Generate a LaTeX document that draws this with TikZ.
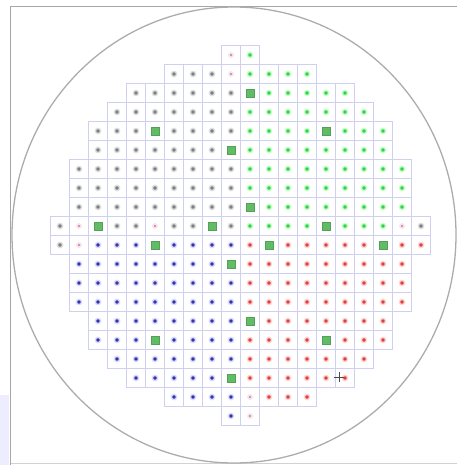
\documentclass[tikz,border=0pt]{standalone}
\usepackage{xcolor}
\usepackage{tikz}

\definecolor{cellline}{HTML}{CFCFF0}
\definecolor{dotgray}{HTML}{7E7E7E}
\definecolor{dotgreen}{HTML}{30D050}
\definecolor{dotblue}{HTML}{3434A8}
\definecolor{dotred}{HTML}{DE4040}
\definecolor{dotpink}{HTML}{D890B4}
\definecolor{sqgreen}{HTML}{62BC66}

% die map: row / first column / bins
\def\diemap{
    0/9/{p,n},
    1/6/{a,a,a,p,n,n,n,n},
    2/4/{a,a,a,a,a,a,s,n,n,n,n,n},
    3/3/{a,a,a,a,a,a,a,n,n,n,n,n,n,n},
    4/2/{a,a,a,s,a,a,a,a,n,n,n,n,s,n,n,n},
    5/2/{a,a,a,a,a,a,a,s,n,n,n,n,n,n,n,n},
    6/1/{a,a,a,a,a,a,a,a,a,n,n,n,n,n,n,n,n,n},
    7/1/{a,a,a,a,a,a,a,a,a,n,n,n,n,n,n,n,n,n},
    8/1/{a,a,a,a,a,a,a,a,a,s,n,n,n,n,n,n,n,n},
    9/0/{a,p,s,a,a,p,a,a,s,a,n,n,n,n,s,n,n,n,p,a},
    10/0/{a,p,b,b,b,s,b,b,b,b,r,s,r,r,r,r,r,s,r,r},
    11/1/{b,b,b,b,b,b,b,b,s,r,r,r,r,r,r,r,r,r},
    12/1/{b,b,b,b,b,b,b,b,b,r,r,r,r,r,r,r,r,r},
    13/1/{b,b,b,b,b,b,b,b,b,r,r,r,r,r,r,r,r,r},
    14/2/{b,b,b,b,b,b,b,b,s,r,r,r,r,r,r,r},
    15/2/{b,b,b,s,b,b,b,b,r,r,r,r,s,r,r,r},
    16/3/{b,b,b,b,b,b,b,r,r,r,r,r,r,r},
    17/4/{b,b,b,b,b,s,r,r,r,r,r,r},
    18/6/{b,b,b,b,p,r,r,r},
    19/9/{b,p}}

\begin{document}
\begin{tikzpicture}[x=1pt, y=-1pt,
    cell/.style={rectangle, draw=cellline, fill=white, line width=0.7pt, minimum size=19pt, inner sep=0pt},
    dot/.style={circle, inner sep=0pt, minimum size=5.2pt, line width=1.4pt},
    dota/.style={dot, fill=dotgray, draw=gray!25},
    dotn/.style={dot, fill=dotgreen, draw=green!22},
    dotb/.style={dot, fill=dotblue, draw=blue!14},
    dotr/.style={dot, fill=dotred, draw=red!16},
    dotp/.style={dot, minimum size=4.2pt, fill=dotpink, draw=dotpink!25},
    dots/.style={rectangle, inner sep=0pt, minimum size=8.5pt, fill=sqgreen, draw=sqgreen!85!black, line width=0.4pt},
    frame/.style={draw=gray!70, line width=1.6pt}]

    \useasboundingbox (0,0) rectangle (457,465);
    \fill[blue!7] (0,395) rectangle (9,465);

    % window frame
    \draw[gray!35, line width=0.6pt] (457,463.5) -- (10.5,463.5);
    \draw[frame] (10.5,465) -- (10.5,6.5) -- (457,6.5);

    % wafer outline
    \draw[gray!65, line width=1.3pt] (234,235) ellipse (222 and 228);

    % gray rim round the die area
    \foreach \row/\first/\codes in \diemap {
        \foreach \bin [count=\i from 0] in \codes {
            \pgfmathtruncatemacro\col{\first+\i}
            \fill[gray!40] ({50.5+19*\col-0.9},{45.5+19*\row-0.9}) rectangle ++(20.8,20.8);
        }
    }

    % dies and bins
    \foreach \row/\first/\codes in \diemap {
        \foreach \bin [count=\i from 0] in \codes {
            \pgfmathtruncatemacro\col{\first+\i}
            \node[cell] (c-\row-\col) at ({60+19*\col},{55+19*\row}) {};
            \node[dot\bin] (m-\row-\col) at (c-\row-\col) {};
        }
    }

    % pointer
    \coordinate (cur) at (339,377);
    \draw[black!70, line width=0.6pt] ([xshift=-5pt]cur) -- ([xshift=5pt]cur);
    \draw[black!70, line width=0.6pt] ([yshift=-5pt]cur) -- ([yshift=5pt]cur);
\end{tikzpicture}
\end{document}
